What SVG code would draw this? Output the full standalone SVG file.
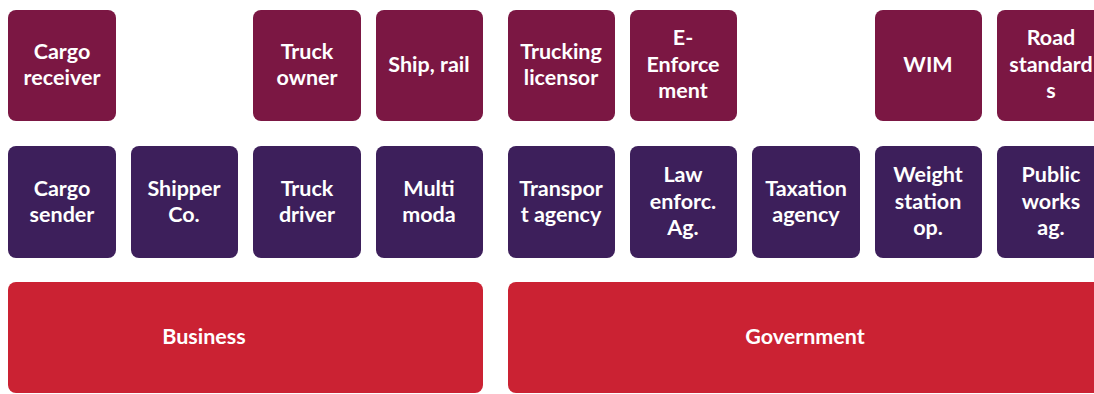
<svg xmlns="http://www.w3.org/2000/svg" width="1094" height="394" viewBox="0 0 1094 394">
<style>
.top{fill:#7B1743}
.mid{fill:#3D1F5B}
.base{fill:#CB2233}
text{font-family:Lato,"Open Sans","Liberation Sans",sans-serif;font-weight:bold;font-size:21.5px;fill:#fff;text-anchor:middle}
</style>
<rect width="1094" height="394" fill="#fff"/>
<g id="cargo-receiver"><rect class="top" x="8" y="10" width="108" height="111" rx="8"/><text x="62" y="59">Cargo</text><text x="62" y="85">receiver</text></g>
<g id="truck-owner"><rect class="top" x="253" y="10" width="108" height="111" rx="8"/><text x="307" y="59">Truck</text><text x="307" y="85">owner</text></g>
<g id="ship-rail"><rect class="top" x="376" y="10" width="107" height="111" rx="8"/><text x="429" y="72">Ship, rail</text></g>
<g id="trucking-licensor"><rect class="top" x="508" y="10" width="107" height="111" rx="8"/><text x="561" y="59">Trucking</text><text x="561" y="85">licensor</text></g>
<g id="e-enforcement"><rect class="top" x="630" y="10" width="107" height="111" rx="8"/><text x="683" y="45">E-</text><text x="683" y="72">Enforce</text><text x="683" y="98">ment</text></g>
<g id="wim"><rect class="top" x="875" y="10" width="107" height="111" rx="8"/><text x="928" y="72">WIM</text></g>
<g id="road-standards"><rect class="top" x="997" y="10" width="108" height="111" rx="8"/><text x="1051" y="45">Road</text><text x="1051" y="72">standard</text><text x="1051" y="98">s</text></g>

<g id="cargo-sender"><rect class="mid" x="8" y="146" width="108" height="112" rx="8"/><text x="62" y="196">Cargo</text><text x="62" y="222">sender</text></g>
<g id="shipper-co"><rect class="mid" x="131" y="146" width="107" height="112" rx="8"/><text x="184" y="196">Shipper</text><text x="184" y="222">Co.</text></g>
<g id="truck-driver"><rect class="mid" x="253" y="146" width="108" height="112" rx="8"/><text x="307" y="196">Truck</text><text x="307" y="222">driver</text></g>
<g id="multi-moda"><rect class="mid" x="376" y="146" width="107" height="112" rx="8"/><text x="429" y="196">Multi</text><text x="429" y="222">moda</text></g>
<g id="transport-agency"><rect class="mid" x="508" y="146" width="107" height="112" rx="8"/><text x="561" y="196">Transpor</text><text x="561" y="222">t agency</text></g>
<g id="law-enforc"><rect class="mid" x="630" y="146" width="107" height="112" rx="8"/><text x="683" y="182">Law</text><text x="683" y="209">enforc.</text><text x="683" y="235">Ag.</text></g>
<g id="taxation-agency"><rect class="mid" x="752" y="146" width="108" height="112" rx="8"/><text x="806" y="196">Taxation</text><text x="806" y="222">agency</text></g>
<g id="weight-station"><rect class="mid" x="875" y="146" width="107" height="112" rx="8"/><text x="928" y="182">Weight</text><text x="928" y="209">station</text><text x="928" y="235">op.</text></g>
<g id="public-works"><rect class="mid" x="997" y="146" width="108" height="112" rx="8"/><text x="1051" y="182">Public</text><text x="1051" y="209">works</text><text x="1051" y="235">ag.</text></g>

<g id="business"><rect class="base" x="8" y="282" width="475" height="111" rx="8"/><text x="204" y="344">Business</text></g>
<g id="government"><rect class="base" x="508" y="282" width="600" height="111" rx="8"/><text x="805" y="344">Government</text></g>
<g id="connectors"></g>
</svg>
